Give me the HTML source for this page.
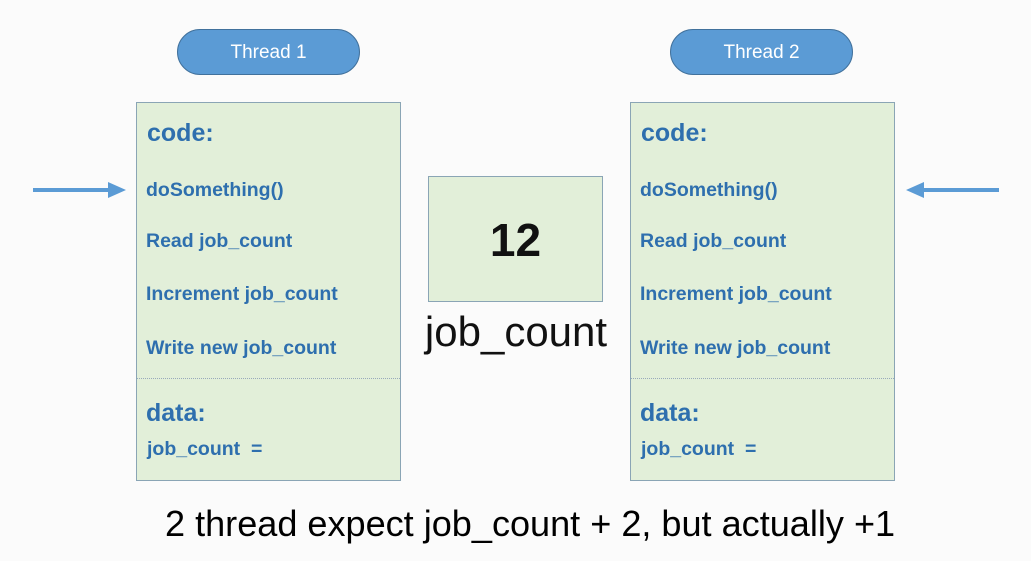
<!DOCTYPE html>
<html><head><meta charset="utf-8"><style>
body{margin:0;width:1031px;height:561px;background:#fbfbfb;position:relative;overflow:hidden;font-family:"Liberation Sans",sans-serif}
.a{position:absolute}
.pill{position:absolute;width:183px;height:46px;border-radius:23px;background:#5b9bd5;border:1px solid #41719c;color:#fff;font-size:19px;text-align:center;line-height:46px;box-sizing:border-box}
.box{position:absolute;width:265px;height:379px;background:#e2efd9;border:1.5px solid #8aa5b5;box-sizing:border-box}
.t{position:absolute;color:#2e6fae;font-weight:bold;white-space:nowrap}
.h{font-size:25px}
.s{font-size:19.5px}
.sep{position:absolute;left:0;right:0;top:275px;border-top:1px dotted #9ab}
</style></head><body>
<div class="pill" style="left:177px;top:29px">Thread 1</div>
<div class="pill" style="left:670px;top:29px">Thread 2</div>

<div class="box" style="left:136px;top:102px">
<div class="t h" style="left:10px;top:16px">code:</div>
<div class="t s" style="left:9px;top:76px">doSomething()</div>
<div class="t s" style="left:9px;top:127px">Read job_count</div>
<div class="t s" style="left:9px;top:180px">Increment job_count</div>
<div class="t s" style="left:9px;top:234px">Write new job_count</div>
<div class="sep"></div>
<div class="t h" style="left:9px;top:296px">data:</div>
<div class="t s" style="left:10px;top:335px">job_count&nbsp; =</div>
</div>

<div class="box" style="left:630px;top:102px">
<div class="t h" style="left:10px;top:16px">code:</div>
<div class="t s" style="left:9px;top:76px">doSomething()</div>
<div class="t s" style="left:9px;top:127px">Read job_count</div>
<div class="t s" style="left:9px;top:180px">Increment job_count</div>
<div class="t s" style="left:9px;top:234px">Write new job_count</div>
<div class="sep"></div>
<div class="t h" style="left:9px;top:296px">data:</div>
<div class="t s" style="left:10px;top:335px">job_count&nbsp; =</div>
</div>

<div class="a" style="left:428px;top:176px;width:175px;height:126px;background:#e2efd9;border:1.5px solid #8aa5b5;box-sizing:border-box;text-align:center;line-height:126px;font-size:46px;font-weight:bold;color:#111">12</div>
<div class="a" style="left:410px;top:308px;width:212px;text-align:center;font-size:42px;color:#111">job_count</div>

<svg class="a" style="left:0;top:0" width="1031" height="561">
<line x1="33" y1="190" x2="112" y2="190" stroke="#5b9bd5" stroke-width="4"/>
<polygon points="108,182 126,190 108,198" fill="#5b9bd5"/>
<line x1="999" y1="190" x2="920" y2="190" stroke="#5b9bd5" stroke-width="4"/>
<polygon points="924,182 906,190 924,198" fill="#5b9bd5"/>
</svg>

<div class="a" style="left:165px;top:503px;font-size:36.1px;color:#000;white-space:nowrap">2 thread expect job_count + 2, but actually +1</div>
</body></html>
